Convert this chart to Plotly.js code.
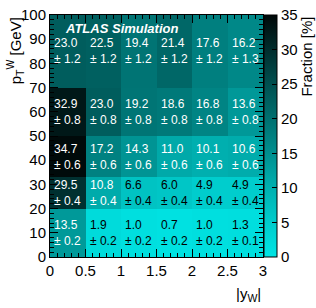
<!DOCTYPE html>
<html>
<head>
<meta charset="utf-8">
<script src="https://cdn.plot.ly/plotly-3.0.1.min.js"></script>
<style>html,body{margin:0;padding:0;background:#fff;}#chart{width:316px;height:308px;}</style>
</head>
<body>
<div id="chart"></div>
<script>
// bin edges
const yAbsEdges = [0, 0.5, 1, 1.5, 2, 2.5, 3];
const ptEdges = [0, 20, 33, 50, 70, 100];
// fractions [%], rows bottom to top
const row0 = [13.5, 1.9, 1.0, 0.7, 1.0, 1.3];
const row1 = [29.5, 10.8, 6.6, 6.0, 4.9, 4.9];
const row2 = [34.7, 17.2, 14.3, 11.0, 10.1, 10.6];
const row3 = [32.9, 23.0, 19.2, 18.6, 16.8, 13.6];
const row4 = [23.0, 22.5, 19.4, 21.4, 17.6, 16.2];
// uncertainties
const err0 = [0.2, 0.2, 0.2, 0.2, 0.2, 0.1];
const err1 = [0.4, 0.4, 0.4, 0.4, 0.4, 0.4];
const err2 = [0.6, 0.6, 0.6, 0.6, 0.6, 0.6];
const err3 = [0.8, 0.8, 0.8, 0.8, 0.8, 0.8];
const err4 = [1.2, 1.2, 1.2, 1.2, 1.2, 1.3];
const xTicks = [0, 0.5, 1, 1.5, 2, 2.5, 3];
const xTickText = ['0', '0.5', '1', '1.5', '2', '2.5', '3'];

const z = [row0, row1, row2, row3, row4];
const errs = [err0, err1, err2, err3, err4];

const FONT = 'Liberation Sans, Arial, Helvetica, sans-serif';

const annotations = [];
for (let j = 0; j < z.length; j++) {
  const yc = (ptEdges[j] + ptEdges[j + 1]) / 2;
  for (let i = 0; i < z[j].length; i++) {
    const xc = (yAbsEdges[i] + yAbsEdges[i + 1]) / 2;
    const v = z[j][i];
    annotations.push({
      x: xc, y: yc, xref: 'x', yref: 'y',
      text: v.toFixed(1) + '<br>± ' + errs[j][i].toFixed(1),
      showarrow: false, align: 'left', xanchor: 'center', yanchor: 'middle',
      font: {family: FONT, size: 12, color: v >= 10 ? '#ffffff' : '#000000'}
    });
  }
}
annotations.push({
  x: 0.06, y: 0.985, xref: 'paper', yref: 'paper', xanchor: 'left', yanchor: 'top',
  text: '<b><i>ATLAS Simulation</i></b>', showarrow: false,
  font: {family: FONT, size: 13, color: '#ffffff'}
});
annotations.push({
  x: -0.165, y: 1.0, xref: 'paper', yref: 'paper', xanchor: 'center', yanchor: 'top',
  text: 'p<sub>T</sub><sup>W</sup> [GeV]', showarrow: false, textangle: -90,
  font: {family: FONT, size: 15, color: '#000'}
});
annotations.push({
  x: 1.0, y: -0.155, xref: 'paper', yref: 'paper', xanchor: 'right', yanchor: 'middle',
  text: '|y<sub>W</sub>|', showarrow: false,
  font: {family: FONT, size: 15, color: '#000'}
});
annotations.push({
  x: 1.2, y: 1.0, xref: 'paper', yref: 'paper', xanchor: 'center', yanchor: 'top',
  text: 'Fraction [%]', showarrow: false, textangle: -90,
  font: {family: FONT, size: 15, color: '#000'}
});

const colorscale = [
  [0.0, 'rgb(0,228,228)'],
  [0.143, 'rgb(0,204,204)'],
  [0.286, 'rgb(0,176,176)'],
  [0.429, 'rgb(0,143,143)'],
  [0.571, 'rgb(0,112,112)'],
  [0.714, 'rgb(0,80,80)'],
  [0.857, 'rgb(0,45,45)'],
  [1.0, 'rgb(0,8,8)']
];

const trace = {
  type: 'heatmap', x: yAbsEdges, y: ptEdges, z: z,
  zmin: 0, zmax: 35, colorscale: colorscale, hoverinfo: 'skip',
  xgap: 0, ygap: 0,
  colorbar: {
    x: 1.007, xanchor: 'left', xpad: 0, ypad: 0, y: 0.5, yanchor: 'middle',
    len: 1, lenmode: 'fraction', thickness: 13, thicknessmode: 'pixels',
    outlinewidth: 1, outlinecolor: '#000',
    tickmode: 'array', tickvals: [0, 5, 10, 15, 20, 25, 30, 35],
    ticks: 'inside', ticklen: 5, tickcolor: '#000',
    tickfont: {family: FONT, size: 15, color: '#000'}
  }
};

const layout = {
  width: 316, height: 308,
  margin: {l: 50, r: 44, t: 15, b: 51, pad: 0},
  paper_bgcolor: '#fff', plot_bgcolor: '#fff',
  showlegend: false,
  font: {family: FONT, size: 15, color: '#000'},
  xaxis: {
    range: [0, 3], tickmode: 'array', tickvals: xTicks, ticktext: xTickText,
    ticks: 'inside', ticklen: 8, tickcolor: '#000', mirror: 'allticks',
    showline: true, linecolor: '#000', linewidth: 1, showgrid: false, zeroline: false,
    minor: {ticks: 'inside', ticklen: 4, dtick: 0.1, tickcolor: '#000', showgrid: false},
    tickfont: {family: FONT, size: 15, color: '#000'}
  },
  yaxis: {
    range: [0, 100], dtick: 10, tick0: 0,
    ticks: 'inside', ticklen: 8, tickcolor: '#000', mirror: 'allticks',
    showline: true, linecolor: '#000', linewidth: 1, showgrid: false, zeroline: false,
    minor: {ticks: 'inside', ticklen: 4, dtick: 2, tickcolor: '#000', showgrid: false},
    tickfont: {family: FONT, size: 15, color: '#000'}
  },
  annotations: annotations
};

Plotly.newPlot('chart', [trace], layout, {staticPlot: true, displayModeBar: false});
</script>
</body>
</html>
